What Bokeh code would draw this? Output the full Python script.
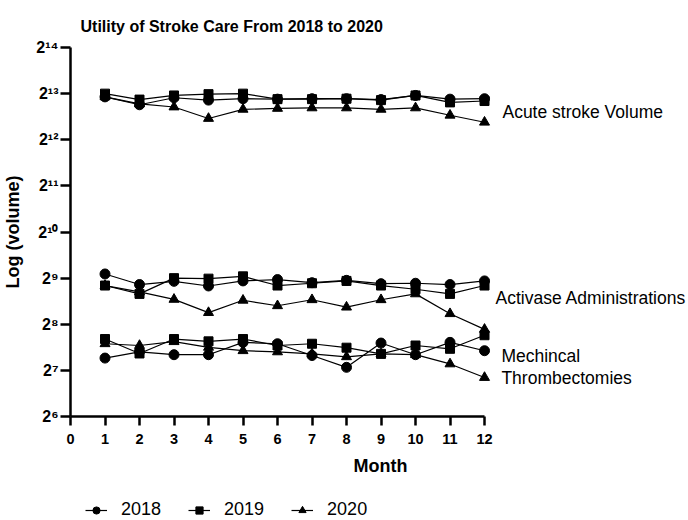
from bokeh.plotting import figure
from bokeh.models import FixedTicker, Legend, LegendItem, Range1d
from bokeh.layouts import column
from bokeh.core.properties import value
from bokeh.embed import file_html
from bokeh.resources import INLINE

months = list(range(1, 13))
years = ["2018", "2019", "2020"]

acute_2018 = [7800, 6930, 7700, 7430, 7590, 7540, 7590, 7590, 7490, 7970, 7540, 7590]
acute_2019 = [8190, 7490, 7970, 8130, 8190, 7540, 7540, 7590, 7430, 7970, 7180, 7330]
acute_2020 = [7800, 7030, 6700, 5640, 6470, 6560, 6610, 6610, 6470, 6610, 5920, 5330]

activase_2018 = [545, 465, 488, 455, 491, 501, 478, 495, 471, 474, 465, 491]
activase_2019 = [458, 404, 512, 508, 526, 458, 474, 491, 458, 433, 404, 458]
activase_2020 = [458, 416, 372, 305, 367, 338, 370, 331, 370, 404, 300, 237]

mt_2018 = [154, 169, 162, 162, 195, 191, 160, 134, 193, 162, 195, 172]
mt_2019 = [205, 165, 205, 198, 205, 186, 191, 180, 164, 186, 177, 217]
mt_2020 = [191, 186, 197, 181, 172, 169, 164, 157, 164, 162, 141, 115]

y_ticks = [64, 128, 256, 512, 1024, 2048, 4096, 8192, 16384]
y_tick_labels = ["2⁶", "2⁷", "2⁸", "2⁹", "2¹⁰", "2¹¹", "2¹²", "2¹³", "2¹⁴"]
x_ticks = list(range(0, 13))

group_labels = ["Acute stroke Volume", "Activase Administrations", "Mechincal", "Thrombectomies"]
group_label_x = [12.52, 12.32, 12.49, 12.49]
group_label_y = [6170, 378, 160, 115]

FONT = "Liberation Sans"

p = figure(frame_width=620, frame_height=369, y_axis_type="log",
           x_range=Range1d(0, 17.97), y_range=Range1d(64, 16384),
           output_backend="svg", toolbar_location=None,
           min_border_left=68, min_border_right=0, min_border_top=47, min_border_bottom=76,
           title="Utility of Stroke Care From 2018 to 2020")

p.title.text_font = FONT
p.title.text_font_size = "16px"
p.title.text_font_style = "bold"
p.title.text_color = "black"
p.title.align = "left"
p.title.offset = 10
p.title.standoff = 26
p.outline_line_color = None
p.xgrid.visible = False
p.ygrid.visible = False
p.background_fill_color = "white"
p.border_fill_color = "white"

# axes
for ax in (p.xaxis[0], p.yaxis[0]):
    ax.axis_line_width = 2.5
    ax.major_tick_line_width = 2.5
    ax.major_tick_in = 0
    ax.minor_tick_line_color = None
    ax.major_label_text_font = FONT
    ax.major_label_text_font_style = "bold"
    ax.axis_label_text_font = FONT
    ax.axis_label_text_font_style = "bold"
    ax.axis_label_text_font_size = "18px"
    ax.major_label_text_color = "black"
    ax.axis_label_text_color = "black"

p.xaxis.bounds = (0, 12)
p.xaxis.ticker = FixedTicker(ticks=x_ticks)
p.xaxis.axis_label = "Month"
p.xaxis.major_tick_out = 9
p.xaxis.major_label_text_font_size = "14.5px"
p.xaxis.major_label_standoff = 8
p.xaxis.axis_label_standoff = 9

p.yaxis.bounds = (64, 16384)
p.yaxis.ticker = FixedTicker(ticks=y_ticks)
p.yaxis.major_label_overrides = {t: l for t, l in zip(y_ticks, y_tick_labels)}
p.yaxis.axis_label = "Log (volume)"
p.yaxis.major_tick_out = 10
p.yaxis.major_label_text_font_size = "16px"
p.yaxis.major_label_standoff = 2
p.yaxis.axis_label_standoff = 10

markers = {"2018": ("circle", 10), "2019": ("square", 9), "2020": ("triangle", 10)}
groups = [
    {"2018": acute_2018, "2019": acute_2019, "2020": acute_2020},
    {"2018": activase_2018, "2019": activase_2019, "2020": activase_2020},
    {"2018": mt_2018, "2019": mt_2019, "2020": mt_2020},
]

for g in groups:
    for y in years:
        p.line(months, g[y], line_color="black", line_width=1.2)
        mk, sz = markers[y]
        p.scatter(months, g[y], marker=mk, size=sz, fill_color="black", line_color="black")

p.text(x=group_label_x, y=group_label_y, text=group_labels,
       text_font=value(FONT), text_font_size="17.5px", text_color="black",
       text_align="left", text_baseline="middle")

# legend strip below the chart (its series stay outside its visible range)
lg = figure(width=688, height=28, output_backend="svg", toolbar_location=None,
            x_range=Range1d(-100, -99), y_range=Range1d(-100, -99),
            min_border_left=68, min_border_right=0, min_border_top=0, min_border_bottom=0,
            x_axis_location=None, y_axis_location=None)
lg.outline_line_color = None
lg.xgrid.visible = False
lg.ygrid.visible = False

series_by_year = {"2018": acute_2018, "2019": acute_2019, "2020": acute_2020}
items = []
for y in years:
    mk, sz = markers[y]
    ln = lg.line(months, series_by_year[y], line_color="black", line_width=1.2)
    sc = lg.scatter(months, series_by_year[y], marker=mk, size=sz - 2, fill_color="black", line_color="black")
    items.append(LegendItem(label=y, renderers=[ln, sc]))

legend = Legend(items=items, orientation="horizontal", location=(15, 0),
                border_line_color=None, background_fill_alpha=0,
                label_text_font=FONT, label_text_font_size="18px",
                glyph_width=22, glyph_height=18, label_height=18,
                label_standoff=14, spacing=27, padding=0, margin=0)
legend.label_text_color = "black"
lg.add_layout(legend)

layout = column(p, lg, spacing=0)
open("out.html", "w").write(file_html(layout, INLINE))
